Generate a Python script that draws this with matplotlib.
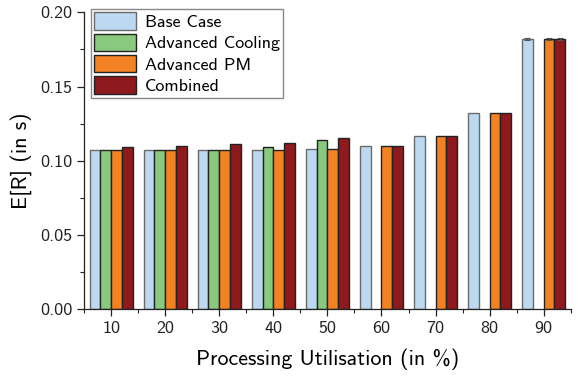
import matplotlib
matplotlib.use("Agg")
import matplotlib.pyplot as plt
import numpy as np
from matplotlib.ticker import MultipleLocator, FixedLocator

plt.rcParams['font.family'] = ['cmss10', 'DejaVu Sans']
plt.rcParams['axes.formatter.use_mathtext'] = True

categories = ["10", "20", "30", "40", "50", "60", "70", "80", "90"]
series_names = ["Base Case", "Advanced Cooling", "Advanced PM", "Combined"]
base_case = [0.107, 0.107, 0.107, 0.107, 0.108, 0.110, 0.117, 0.132, 0.182]
adv_cooling = [0.107, 0.107, 0.107, 0.109, 0.114, np.nan, np.nan, np.nan, np.nan]
adv_pm = [0.107, 0.107, 0.107, 0.107, 0.108, 0.110, 0.117, 0.132, 0.182]
combined = [0.109, 0.110, 0.111, 0.112, 0.115, 0.110, 0.117, 0.132, 0.182]
err_base = [0, 0, 0, 0, 0, 0, 0, 0, 0.0008]
err_cool = [0, 0, 0, 0, 0, 0, 0, 0, 0]
err_pm = [0, 0, 0, 0, 0, 0, 0, 0, 0.0008]
err_comb = [0, 0, 0, 0, 0, 0, 0, 0, 0.0008]

colors = ["#bdd9f2", "#88c97e", "#f38322", "#8e1a1e"]
edges = ["#6a6a6a", "#222222", "#222222", "#222222"]

fig = plt.figure(figsize=(5.8, 3.76), dpi=100)
ax = fig.add_axes([0.145, 0.178, 0.839, 0.789])

x = np.arange(len(categories))
w = 0.2
data = [base_case, adv_cooling, adv_pm, combined]
errs = [err_base, err_cool, err_pm, err_comb]
for i, (vals, e) in enumerate(zip(data, errs)):
    ax.bar(x + (i - 1.5) * w, vals, w, color=colors[i], edgecolor=edges[i],
           linewidth=1.0, label=series_names[i], zorder=2)
    ee = np.array(e)
    mask = ee > 0
    if mask.any():
        ax.errorbar((x + (i - 1.5) * w)[mask], np.array(vals)[mask], yerr=ee[mask],
                    fmt='none', ecolor='#555555', elinewidth=0.8, capsize=2.5,
                    capthick=0.8, zorder=3)

ax.set_xlim(-0.5, 8.5)
ax.set_ylim(0, 0.2)
ax.set_xticks(x)
ax.set_xticklabels(categories)
ax.xaxis.set_minor_locator(FixedLocator(np.arange(-0.5, 9, 1.0)))
ax.yaxis.set_major_locator(MultipleLocator(0.05))
ax.yaxis.set_minor_locator(MultipleLocator(0.025))
ax.yaxis.set_major_formatter(matplotlib.ticker.FormatStrFormatter('%.2f'))
ax.spines['top'].set_visible(False)
ax.spines['right'].set_visible(False)
for s in ['left', 'bottom']:
    ax.spines[s].set_linewidth(0.9)
    ax.spines[s].set_color('#222222')
ax.tick_params(axis='both', which='major', length=5, width=0.9, labelsize=13, direction='out', colors='#222222')
ax.tick_params(axis='both', which='minor', length=3, width=0.8, direction='out', colors='#222222')
ax.tick_params(axis='both', labelcolor='#222222')

ax.set_xlabel("Processing Utilisation (in %)", fontsize=15.8, labelpad=9)
ax.set_ylabel("E[R] (in s)", fontsize=15.8, labelpad=6)

leg = ax.legend(loc='upper left', bbox_to_anchor=(91 / 580, 1 - 9 / 376),
                bbox_transform=fig.transFigure, borderaxespad=0, fontsize=13,
                handlelength=2.3, handleheight=1.1, labelspacing=0.2,
                handletextpad=0.5, borderpad=0.18, fancybox=False, framealpha=1)
leg.get_frame().set_edgecolor('#888888')
leg.get_frame().set_linewidth(1.0)

fig.savefig("out.png", dpi=100)
